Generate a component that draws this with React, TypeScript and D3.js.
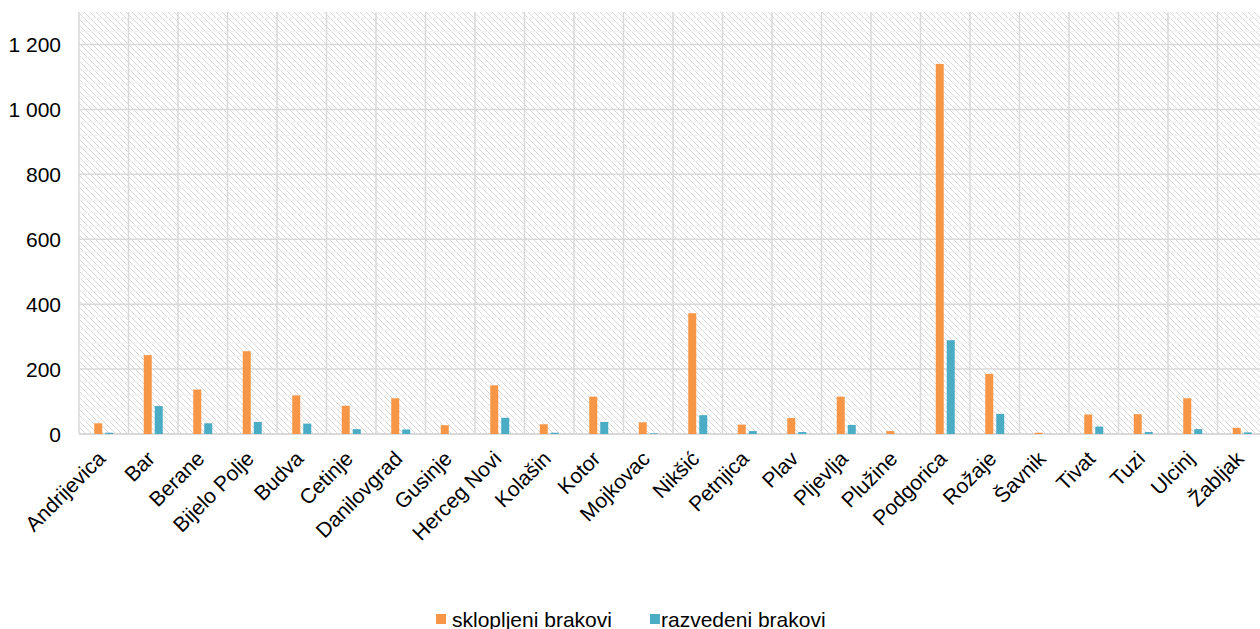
import React from "react";
import * as d3 from "d3";

const categories = [
  "Andrijevica", "Bar", "Berane", "Bijelo Polje", "Budva", "Cetinje", "Danilovgrad", "Gusinje",
  "Herceg Novi", "Kolašin", "Kotor", "Mojkovac", "Nikšić", "Petnjica", "Plav", "Pljevlja",
  "Plužine", "Podgorica", "Rožaje", "Šavnik", "Tivat", "Tuzi", "Ulcinj", "Žabljak",
];
const sklopljeni = [33, 243, 137, 255, 119, 87, 110, 27, 150, 30, 115, 36, 372, 29, 49, 115, 9, 1140, 185, 4, 60, 61, 110, 19];
const razvedeni = [4, 86, 33, 37, 32, 15, 14, 0, 50, 4, 37, 2, 58, 9, 6, 28, 0, 289, 62, 0, 23, 6, 15, 5];
const seriesNames = ["sklopljeni brakovi", "razvedeni brakovi"];
const seriesColors = ["#F79646", "#4BACC6"];
const yTicks = [0, 200, 400, 600, 800, 1000, 1200];
const yMax = 1300;

const W = 1260;
const H = 629;
const left = 79;
const top = 12;
const bottom = 434;
const step = 49.5;
const right = left + step * categories.length;

const fmt = d3.formatLocale({ thousands: " ", grouping: [3], decimal: ",", currency: ["", ""] }).format(",d");

export default function App() {
  const x0 = d3.scaleBand<string>().domain(categories).range([left, right]).paddingInner(0).paddingOuter(0);
  const groupW = 19;
  const x1 = d3.scaleBand<string>().domain(seriesNames).range([0, groupW]).paddingInner(3 / 11).paddingOuter(0);
  const y = d3.scaleLinear().domain([0, yMax]).range([bottom, top]);
  const minorTicks = d3.range(0, yMax, 40).filter((v) => v % 200 !== 0);
  const data = [sklopljeni, razvedeni];
  const font = "'Liberation Sans', Arial, sans-serif";
  const gridColor = "#d9d9d9";
  const fs = 21;

  return (
    <svg width={W} height={H} style={{ position: "absolute", left: 0, top: 0, display: "block" }} fontFamily={font}>
      <defs>
        <pattern id="hatch" width="6" height="6" patternUnits="userSpaceOnUse">
          <rect width="6" height="6" fill="#ffffff" />
          <path d="M-1,-1 L7,7 M-1,5 L1,7 M5,-1 L7,1" stroke="#d9d9d9" strokeWidth="1" />
        </pattern>
      </defs>
      <rect x={left} y={top} width={right - left} height={bottom - top} fill="url(#hatch)" />
      {minorTicks.map((t) => (
        <line key={"m" + t} x1={left} x2={right} y1={y(t)} y2={y(t)} stroke="#f3f3f3" strokeWidth={1.5} />
      ))}
      {yTicks.map((t) => (
        <line key={"h" + t} x1={left} x2={right} y1={y(t)} y2={y(t)} stroke={gridColor} strokeWidth={t === 0 ? 2 : 1.5} />
      ))}
      {categories.map((c) => (
        <line key={"v" + c} x1={x0(c)!} x2={x0(c)!} y1={top} y2={bottom} stroke={gridColor} strokeWidth={1.5} />
      ))}
      <line x1={right} x2={right} y1={top} y2={bottom} stroke={gridColor} strokeWidth={1.5} />
      {data.map((vals, si) =>
        categories.map((c, i) => {
          const bx = x0(c)! + (step - groupW) / 2 + x1(seriesNames[si])!;
          return (
            <rect
              key={si + "-" + c}
              x={bx}
              y={y(vals[i])}
              width={x1.bandwidth()}
              height={bottom - y(vals[i])}
              fill={seriesColors[si]}
            />
          );
        })
      )}
      {yTicks.map((t) => (
        <text key={"yt" + t} x={61} y={y(t)} dy="0.36em" textAnchor="end" fontSize={fs} fill="#000">
          {fmt(t)}
        </text>
      ))}
      {categories.map((c) => {
        const cx = x0(c)! + step / 2 + 3;
        const cy = 460;
        return (
          <text
            key={"xl" + c}
            x={cx}
            y={cy}
            textAnchor="end"
            fontSize={fs}
            fill="#000"
            transform={`rotate(-45 ${cx} ${cy})`}
          >
            {c}
          </text>
        );
      })}
      <g>
        <rect x={436} y={614} width={10} height={10} fill={seriesColors[0]} />
        <text x={452} y={627} fontSize={fs} fill="#000">{seriesNames[0]}</text>
        <rect x={650} y={614} width={10} height={10} fill={seriesColors[1]} />
        <text x={661} y={627} fontSize={fs} fill="#000">{seriesNames[1]}</text>
      </g>
    </svg>
  );
}
